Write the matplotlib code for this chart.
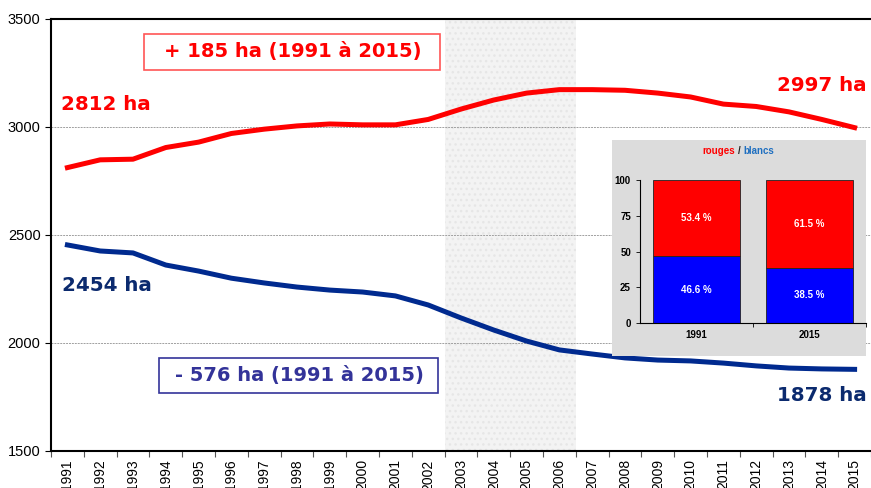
import matplotlib.pyplot as plt
from matplotlib.patches import Rectangle

plt.rcParams['font.family'] = ['Liberation Sans', 'DejaVu Sans']

years = list(range(1991, 2016))
rouges = [2812, 2848, 2851, 2905, 2930, 2970, 2990, 3005, 3014, 3010, 3010, 3035,
          3083, 3125, 3157, 3173, 3173, 3170, 3157, 3139, 3106, 3095, 3070, 3035, 2997]
blancs = [2454, 2426, 2417, 2361, 2333, 2300, 2278, 2259, 2245, 2236, 2218, 2176,
          2116, 2060, 2009, 1968, 1949, 1931, 1921, 1917, 1907, 1894, 1884, 1880, 1878]

inset_years = ["1991", "2015"]
part_rouges = [53.4, 61.5]
part_blancs = [46.6, 38.5]

RED = '#ff0000'
NAVY = '#002a8f'
NAVY_TXT = '#0b2a6e'
BOX_BLUE = '#333399'
ANN_FONT = 'DejaVu Sans'

fig = plt.figure(figsize=(8.71, 4.88), dpi=100)
ax = fig.add_axes([51 / 871, 37 / 488, 1 - 51 / 871, 432 / 488])

x = list(range(len(years)))
ax.axvspan(11.5, 15.5, facecolor='#f3f3f3', edgecolor='#e6e6e6', hatch='...', lw=0, zorder=0)
for yv in [2000, 2500, 3000]:
    ax.axhline(yv, color='#a0a0a0', lw=0.7, ls=(0, (2, 1)), zorder=1)

ax.plot(x, rouges, color=RED, lw=3.6, zorder=3)
ax.plot(x, blancs, color=NAVY, lw=3.6, zorder=3)

ax.set_xlim(-0.5, len(years) - 0.5)
ax.set_ylim(1500, 3500)
ax.set_yticks([1500, 2000, 2500, 3000, 3500])
ax.tick_params(axis='y', labelsize=10.5, length=4, width=0.8)
ax.set_xticks(x)
ax.set_xticklabels([str(y) for y in years], rotation=90, fontsize=10)
ax.set_xticks([i - 0.5 for i in x] + [len(years) - 0.5], minor=True)
ax.tick_params(axis='x', which='major', length=0, pad=6)
ax.tick_params(axis='x', which='minor', length=4, width=0.8, color='#555555')
ax.spines['right'].set_visible(False)
for s in ['left', 'bottom', 'top']:
    ax.spines[s].set_linewidth(1.5)

lab_kw = dict(fontsize=14.3, fontweight='bold', ha='center', va='center', family=ANN_FONT)
ax.text(1.16, 3106, "2812 ha", color=RED, **lab_kw)
ax.text(23.0, 3190, "2997 ha", color=RED, **lab_kw)
ax.text(1.2, 2264, "2454 ha", color=NAVY_TXT, **lab_kw)
ax.text(23.0, 1755, "1878 ha", color=NAVY_TXT, **lab_kw)

box_kw = dict(fontsize=14, fontweight='bold', ha='center', va='center', family=ANN_FONT, zorder=5)
ax.add_patch(Rectangle((2.35, 3264), 9.02, 167, facecolor='white', edgecolor='#ff5555',
                       lw=1.2, zorder=4))
ax.text(6.86, 3349, "+ 185 ha (1991 à 2015)", color=RED, **box_kw)
ax.add_patch(Rectangle((2.8, 1768), 8.51, 162, facecolor='white', edgecolor=BOX_BLUE,
                       lw=1.2, zorder=4))
ax.text(7.06, 1851, "- 576 ha (1991 à 2015)", color=BOX_BLUE, **box_kw)

# inset
fig.patches.append(Rectangle((612 / 871, (488 - 356) / 488), 254 / 871, 216 / 488,
                             transform=fig.transFigure, facecolor='#dcdcdc', edgecolor='none',
                             zorder=5))
ix = fig.add_axes([640 / 871, (488 - 323) / 488, 226 / 871, 143 / 488], zorder=6)
ix.patch.set_alpha(0)
xi = [0, 1]
ix.bar(xi, part_blancs, width=0.77, color='#0000ff', edgecolor='#222222', lw=0.6)
ix.bar(xi, part_rouges, width=0.77, bottom=part_blancs, color=RED, edgecolor='#222222', lw=0.6)
for i in xi:
    ix.text(i, part_blancs[i] / 2, f"{part_blancs[i]} %", color='white', fontsize=7,
            fontweight='bold', ha='center', va='center')
    ix.text(i, part_blancs[i] + part_rouges[i] / 2, f"{part_rouges[i]} %", color='white',
            fontsize=7, fontweight='bold', ha='center', va='center')
ix.set_xlim(-0.5, 1.5)
ix.set_ylim(0, 100)
ix.set_yticks([0, 25, 50, 75, 100])
ix.set_xticks(xi)
ix.set_xticklabels(inset_years)
ix.set_xticks([0.5, 1.5], minor=True)
ix.tick_params(axis='x', which='major', length=0, labelsize=7, pad=5)
ix.tick_params(axis='x', which='minor', length=3, width=0.6)
ix.tick_params(axis='y', labelsize=7, length=3, width=0.6)
for lab in ix.get_xticklabels() + ix.get_yticklabels():
    lab.set_fontweight('bold')
ix.spines['top'].set_visible(False)
ix.spines['right'].set_visible(False)
fig.text(735 / 871, (488 - 151) / 488, "rouges", color=RED, fontsize=7, fontweight='bold',
         ha='right', va='center', zorder=7)
fig.text(739 / 871, (488 - 151) / 488, "/", color='#222222', fontsize=7, fontweight='bold',
         ha='center', va='center', zorder=7)
fig.text(743 / 871, (488 - 151) / 488, "blancs", color='#1f6fc0', fontsize=7, fontweight='bold',
         ha='left', va='center', zorder=7)

fig.savefig('out.png', dpi=100)
